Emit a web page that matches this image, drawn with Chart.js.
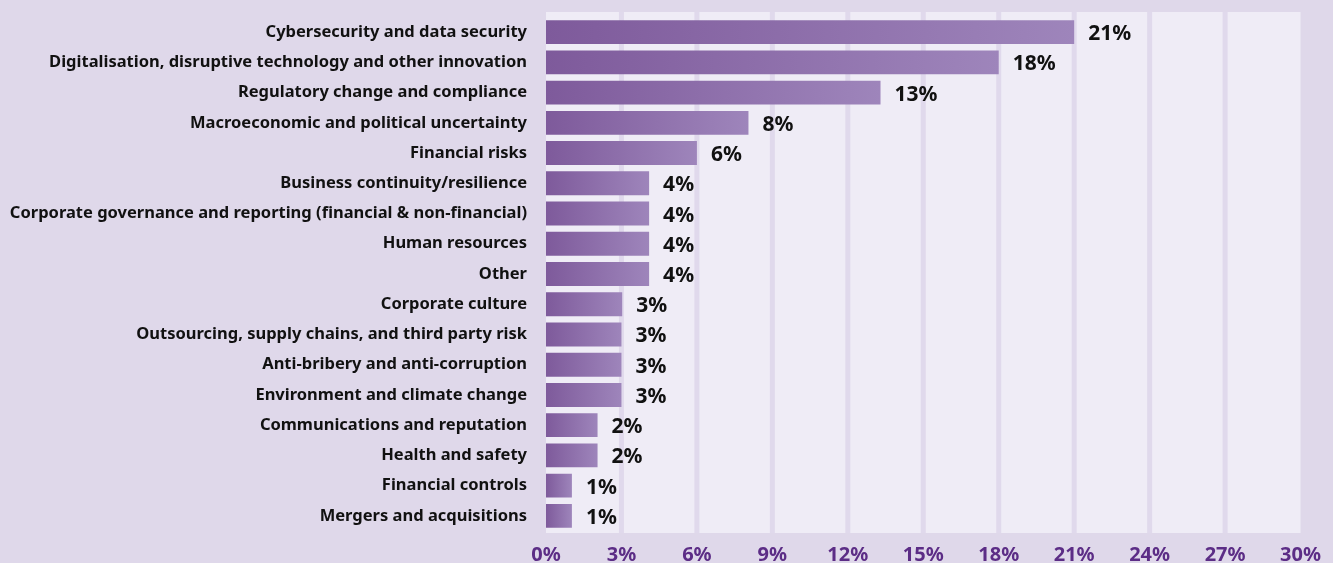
<!DOCTYPE html>
<html lang="en">
<head>
    <meta charset="UTF-8">
    <title>Top risks</title>
    <style>
        body {
            margin: 0;
            background-color: #dfd8ea;
        }
        .chart-container {
            position: relative;
            width: 1333px;
            height: 563px;
        }
    </style>
</head>
<body>

<div class="chart-container">
    <canvas id="riskChart"></canvas>
</div>

<script src="https://cdn.jsdelivr.net/npm/chart.js"></script>
<script>
    const categories = [
        'Cybersecurity and data security',
        'Digitalisation, disruptive technology and other innovation',
        'Regulatory change and compliance',
        'Macroeconomic and political uncertainty',
        'Financial risks',
        'Business continuity/resilience',
        'Corporate governance and reporting (financial & non-financial)',
        'Human resources',
        'Other',
        'Corporate culture',
        'Outsourcing, supply chains, and third party risk',
        'Anti-bribery and anti-corruption',
        'Environment and climate change',
        'Communications and reputation',
        'Health and safety',
        'Financial controls',
        'Mergers and acquisitions'
    ];
    const shares = [21, 18, 13.3, 8.05, 6, 4.1, 4.1, 4.1, 4.1, 3.03, 3, 3, 3, 2.05, 2.05, 1.03, 1.03];
    const shareLabels = ['21%', '18%', '13%', '8%', '6%', '4%', '4%', '4%', '4%', '3%', '3%', '3%', '3%', '2%', '2%', '1%', '1%'];
    const xTicks = [0, 3, 6, 9, 12, 15, 18, 21, 24, 27, 30];

    const FONT = '"Noto Sans", sans-serif';

    // plot background + grid lines, drawn a bit taller than the chart area
    const backdrop = {
        id: 'backdrop',
        beforeDatasetsDraw(chart) {
            const { ctx, chartArea: a, scales: { x } } = chart;
            const top = a.top - 5, bottom = a.bottom + 2;
            ctx.save();
            ctx.fillStyle = '#efecf6';
            ctx.fillRect(a.left, top, a.right - a.left, bottom - top);
            ctx.fillStyle = '#e0d9ec';
            xTicks.slice(1, -1).forEach(v => {
                const px = x.getPixelForValue(v);
                ctx.fillRect(px - 2.5, top, 5, bottom - top);
            });
            ctx.restore();
        }
    };

    const valueLabels = {
        id: 'valueLabels',
        afterDatasetsDraw(chart) {
            const { ctx } = chart;
            const meta = chart.getDatasetMeta(0);
            ctx.save();
            ctx.font = 'bold 21px ' + FONT;
            ctx.fillStyle = '#111111';
            ctx.textBaseline = 'middle';
            meta.data.forEach((bar, i) => {
                ctx.fillText(shareLabels[i], bar.x + 14, bar.y + 2);
            });
            ctx.restore();
        }
    };

    function barGradient(context) {
        const chart = context.chart;
        if (!chart.chartArea) return '#8a68a8';
        const x = chart.scales.x;
        const x0 = x.getPixelForValue(0);
        const x1 = x.getPixelForValue(context.raw);
        const g = chart.ctx.createLinearGradient(x0, 0, x1, 0);
        g.addColorStop(0, '#7e5a9b');
        g.addColorStop(1, '#9e85bb');
        return g;
    }

    new Chart(document.getElementById('riskChart'), {
        type: 'bar',
        data: {
            labels: categories,
            datasets: [{
                data: shares,
                backgroundColor: barGradient,
                borderWidth: 0,
                categoryPercentage: 1,
                barPercentage: 0.79
            }]
        },
        options: {
            indexAxis: 'y',
            responsive: true,
            maintainAspectRatio: false,
            animation: false,
            layout: { padding: { left: 0, right: 30, top: 17, bottom: 0 } },
            plugins: {
                legend: { display: false },
                tooltip: { enabled: false }
            },
            scales: {
                x: {
                    min: 0,
                    max: 30,
                    afterBuildTicks(scale) {
                        scale.ticks = xTicks.map(v => ({ value: v }));
                    },
                    afterFit(scale) { scale.height = 32; },
                    grid: { display: false, drawTicks: false },
                    border: { display: false },
                    ticks: {
                        padding: 12,
                        maxRotation: 0,
                        autoSkip: false,
                        color: '#5c2d86',
                        font: { family: FONT, weight: 'bold', size: 20 },
                        callback: v => v + '%'
                    }
                },
                y: {
                    afterFit(scale) {
                        scale.width = 546;
                        scale.paddingTop = 0;
                        scale.paddingBottom = 0;
                    },
                    grid: { display: false, drawTicks: false },
                    border: { display: false },
                    ticks: {
                        padding: 19,
                        autoSkip: false,
                        color: '#111111',
                        font: { family: FONT, weight: 'bold', size: 16.5 }
                    }
                }
            }
        },
        plugins: [backdrop, valueLabels]
    });
</script>

</body>
</html>
